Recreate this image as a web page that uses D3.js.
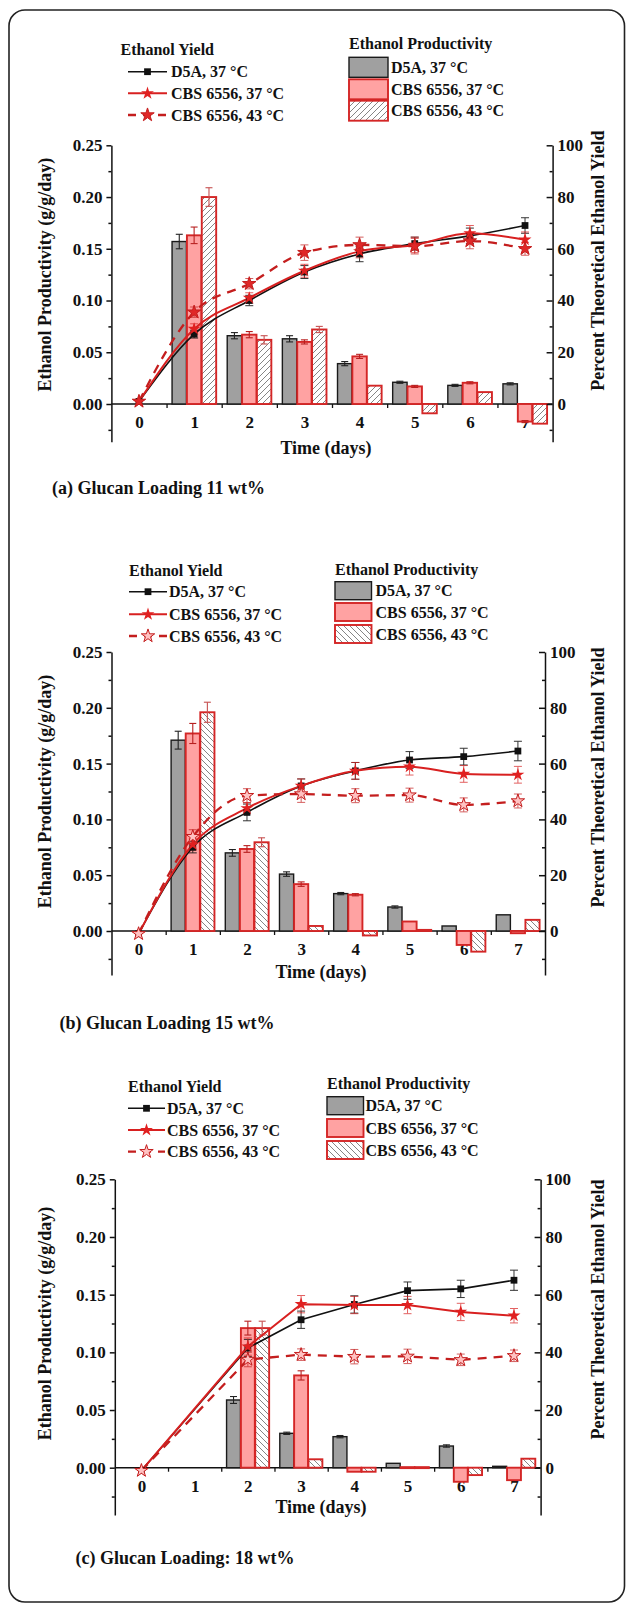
<!DOCTYPE html>
<html>
<head>
<meta charset="utf-8">
<script src="https://cdn.jsdelivr.net/npm/d3@7"></script>
<style>
body { margin: 0; background: #fff; }
text { font-family: "Liberation Serif", "Times New Roman", serif; font-weight: bold; fill: #111; }
</style>
</head>
<body>
<svg id="chart" width="630" height="1604"></svg>
<script>
// ---- data ----
const days = [0, 1, 2, 3, 4, 5, 6, 7];
const seriesKeys = ["d5a", "cbs37", "cbs43"];
const seriesLabels = ["D5A, 37 \u00B0C", "CBS 6556, 37 \u00B0C", "CBS 6556, 43 \u00B0C"];
const leftTicks = [0, 0.05, 0.10, 0.15, 0.20, 0.25];
const rightTicks = [0, 20, 40, 60, 80, 100];

// (a) glucan loading 11 wt%  -- productivity g/g/day
const prodA_d5a = [null, 0.157, 0.066, 0.063, 0.039, 0.021, 0.018, 0.0195];
const prodA_d5aErr = [0, 0.007, 0.003, 0.003, 0.002, 0.001, 0.001, 0.001];
const prodA_c37 = [null, 0.163, 0.067, 0.060, 0.046, 0.017, 0.0205, -0.017];
const prodA_c37Err = [0, 0.008, 0.003, 0.002, 0.002, 0.001, 0.001, 0.001];
const prodA_c43 = [null, 0.200, 0.062, 0.072, 0.0177, -0.009, 0.0115, -0.019];
const prodA_c43Err = [0, 0.009, 0.004, 0.003, 0, 0, 0, 0];
// (a) percent theoretical yield
const yieldA_d5a = [1, 27, 40, 51, 58, 62, 65, 69];
const yieldA_d5aErr = [0, 1.5, 2, 2.5, 3, 2.5, 3, 3];
const yieldA_c37 = [1, 29, 41, 51.5, 59, 61.5, 66, 63.5];
const yieldA_c37Err = [0, 2, 2, 2.5, 2.5, 3, 3, 3];
const yieldA_c43 = [1, 35.5, 46.5, 58.5, 61.5, 61, 63, 60];
const yieldA_c43Err = [0, 2, 2, 3, 3, 3, 3, 2.5];

// (b) glucan loading 15 wt%
const prodB_d5a = [null, 0.171, 0.070, 0.051, 0.0335, 0.0215, 0.0045, 0.0145];
const prodB_d5aErr = [0, 0.008, 0.003, 0.002, 0.001, 0.001, 0, 0];
const prodB_c37 = [null, 0.177, 0.0735, 0.042, 0.0325, 0.0085, -0.0125, -0.002];
const prodB_c37Err = [0, 0.009, 0.003, 0.002, 0.001, 0, 0, 0];
const prodB_c43 = [null, 0.196, 0.0795, 0.0045, -0.004, 0.001, -0.0185, 0.010];
const prodB_c43Err = [0, 0.009, 0.004, 0, 0, 0, 0, 0];
const yieldB_d5a = [-1, 30, 42.5, 52, 57.4, 61.3, 62.5, 64.5];
const yieldB_d5aErr = [0, 2, 3, 2.5, 3, 3, 3, 3.5];
const yieldB_c37 = [-1, 31, 44, 52, 57.4, 58.9, 56.3, 56];
const yieldB_c37Err = [0, 2, 2, 2.5, 3, 3, 3, 3];
const yieldB_c43 = [-1, 33.8, 48.5, 49.1, 48.5, 48.7, 45.2, 46.6];
const yieldB_c43Err = [0, 2.5, 2.5, 3, 2.5, 2.5, 2.5, 2.5];

// (c) glucan loading 18 wt%
const prodC_d5a = [null, null, 0.0587, 0.0298, 0.0269, 0.0038, 0.0188, 0.0012];
const prodC_d5aErr = [0, 0, 0.003, 0.001, 0.001, 0, 0.001, 0];
const prodC_c37 = [null, null, 0.121, 0.080, -0.0035, 0.0005, -0.0122, -0.0108];
const prodC_c37Err = [0, 0, 0.006, 0.004, 0, 0, 0, 0];
const prodC_c43 = [null, null, 0.121, 0.0073, -0.0035, 0.0005, -0.0064, 0.0078];
const prodC_c43Err = [0, 0, 0.006, 0, 0, 0, 0, 0];
const yieldC_d5a = [-1, null, 41.5, 51.3, 56.6, 61.4, 62, 65];
const yieldC_d5aErr = [0, 0, 3, 3, 3, 3, 3, 3.5];
const yieldC_c37 = [-1, null, 42, 56.7, 56.4, 56.4, 54, 52.7];
const yieldC_c37Err = [0, 0, 3, 3, 3, 3, 3, 2.5];
const yieldC_c43 = [-1, null, 37.5, 39.2, 38.5, 38.6, 37.4, 38.8];
const yieldC_c43Err = [0, 0, 2.5, 2, 2.5, 2.5, 2, 2];

// ---- styles ----
const barFill = { d5a: "#a0a0a0", cbs37: "#ffa2a2" };
const barStroke = { d5a: "#1a1a1a", cbs37: "#d42626", cbs43: "#d42626" };
const barErr = { d5a: "#222", cbs37: "#b82020", cbs43: "#c65050" };
const lineColor = { d5a: "#111", cbs37: "#d82020", cbs43: "#c41e1e" };

const panels = [
  {
    id: "a", caption: "(a) Glucan Loading 11 wt%", hatch: "fwd", curve: d3.curveMonotoneX, star43: "#e02828",
    prod: [prodA_d5a, prodA_c37, prodA_c43], prodErr: [prodA_d5aErr, prodA_c37Err, prodA_c43Err],
    yld: [yieldA_d5a, yieldA_c37, yieldA_c43], yldErr: [yieldA_d5aErr, yieldA_c37Err, yieldA_c43Err],
    left: 111.4, right: 552.6, yTop: 145.3, y0: 404, yBot: 441.7,
    yl: { x: 120.5, ty: 49.3, x1: 128, x2: 167, rows: [71.7, 93.3, 115], tx: 171 },
    pl: { x: 349, ty: 43.3, w: 39, h: 20, rows: [57.3, 79.3, 100.7], tx: 391 },
    cap: { x: 52, y: 488.3 }, time: { x: 326, y: 448.3 }
  },
  {
    id: "b", caption: "(b) Glucan Loading 15 wt%", hatch: "back", curve: d3.curveMonotoneX, star43: "#ffc2c2",
    prod: [prodB_d5a, prodB_c37, prodB_c43], prodErr: [prodB_d5aErr, prodB_c37Err, prodB_c43Err],
    yld: [yieldB_d5a, yieldB_c37, yieldB_c43], yldErr: [yieldB_d5aErr, yieldB_c37Err, yieldB_c43Err],
    left: 111.5, right: 545, yTop: 652, y0: 931, yBot: 975,
    yl: { x: 129, ty: 570, x1: 129, x2: 167, rows: [591.7, 614.3, 636], tx: 169 },
    pl: { x: 335, ty: 569.3, w: 36.5, h: 18, rows: [581.7, 603, 625], tx: 375.5 },
    cap: { x: 59.4, y: 1023.3 }, time: { x: 321, y: 971.7 }
  },
  {
    id: "c", caption: "(c) Glucan Loading: 18 wt%", hatch: "back", curve: d3.curveLinear, star43: "#ffc2c2",
    prod: [prodC_d5a, prodC_c37, prodC_c43], prodErr: [prodC_d5aErr, prodC_c37Err, prodC_c43Err],
    yld: [yieldC_d5a, yieldC_c37, yieldC_c43], yldErr: [yieldC_d5aErr, yieldC_c37Err, yieldC_c43Err],
    left: 114.8, right: 540.6, yTop: 1179.3, y0: 1467.7, yBot: 1515,
    yl: { x: 128, ty: 1086.7, x1: 128, x2: 165, rows: [1108.3, 1130, 1151.7], tx: 167 },
    pl: { x: 327, ty: 1083.3, w: 36.5, h: 18, rows: [1096.7, 1119, 1141], tx: 365.5 },
    cap: { x: 75.5, y: 1557.7 }, time: { x: 321, y: 1506.7 }
  }
];

const svg = d3.select("#chart");
const defs = svg.append("defs");

function addHatch(id, dir) {
  const p = defs.append("pattern").attr("id", id)
    .attr("patternUnits", "userSpaceOnUse").attr("width", 6).attr("height", 6);
  p.append("rect").attr("width", 6).attr("height", 6).attr("fill", "#fff");
  const path = dir === "fwd" ? "M-1,1 L1,-1 M0,6 L6,0 M5,7 L7,5" : "M-1,5 L1,7 M0,0 L6,6 M5,-1 L7,1";
  p.append("path").attr("d", path).attr("stroke", "#777").attr("stroke-width", 0.9);
}
addHatch("hatch-fwd", "fwd");
addHatch("hatch-back", "back");

// outer frame
svg.append("rect")
  .attr("x", 9).attr("y", 10).attr("width", 615.5).attr("height", 1592)
  .attr("rx", 16).attr("ry", 16)
  .attr("fill", "none").attr("stroke", "#222").attr("stroke-width", 1.6);

const symbolFor = { d5a: d3.symbolSquare, cbs37: d3.symbolStar, cbs43: d3.symbolStar };
const symbolSize = { d5a: 46, cbs37: 52, cbs43: 56 };

function drawMarker(g, key, cx, cy, fill43) {
  const m = g.append("path")
    .attr("d", d3.symbol().type(symbolFor[key]).size(symbolSize[key])())
    .attr("transform", `translate(${cx},${cy})`);
  if (key === "d5a") m.attr("fill", "#111");
  else if (key === "cbs37") m.attr("fill", "#e02020");
  else m.attr("fill", fill43).attr("stroke", "#c41e1e").attr("stroke-width", 1);
}

function lineStyle(sel, key) {
  sel.attr("fill", "none").attr("stroke", lineColor[key])
    .attr("stroke-width", key === "d5a" ? 1.6 : key === "cbs37" ? 2 : 2.3);
  if (key === "cbs43") sel.attr("stroke-dasharray", "9,7");
  return sel;
}

function drawPanel(p) {
  const g = svg.append("g").attr("class", "panel-" + p.id);
  const hatchUrl = `url(#hatch-${p.hatch})`;

  const x = d3.scaleLinear().domain([-0.5, 7.5]).range([p.left, p.right]);
  const yBase = d3.scaleLinear().domain([0, 0.25]).range([p.y0, p.yTop]);
  const yMin = yBase.invert(p.yBot);
  const y = d3.scaleLinear().domain([yMin, 0.25]).range([p.yBot, p.yTop]);
  const y2 = d3.scaleLinear().domain([yMin * 400, 100]).range([p.yBot, p.yTop]);
  const sub = d3.scaleBand().domain(seriesKeys).range([-0.4, 0.4]).paddingInner(0.03);

  // x tick labels first (bars cover some of them, as in the original)
  const xAxis = g.append("g").attr("transform", `translate(0,${p.y0})`)
    .call(d3.axisBottom(x).tickValues(days).tickSize(0).tickPadding(12).tickFormat(d3.format("d")));
  xAxis.select(".domain").remove();
  xAxis.selectAll("text").style("font-size", "17px").style("font-family", "Liberation Serif").attr("fill", "#111");

  const xMinor = g.append("g").attr("transform", `translate(0,${p.y0})`)
    .call(d3.axisBottom(x).tickValues(days.slice(0, 7).map(d => d + 0.5)).tickSize(4).tickFormat(""));
  xMinor.select(".domain").remove();
  xMinor.selectAll("line").attr("stroke", "#111").attr("stroke-width", 1.3);

  g.append("line").attr("x1", p.left).attr("x2", p.right)
    .attr("y1", p.y0).attr("y2", p.y0).attr("stroke", "#111").attr("stroke-width", 1.5);

  // bars
  seriesKeys.forEach((key, si) => {
    const vals = p.prod[si], errs = p.prodErr[si];
    const pts = days.map((d, i) => ({ d, v: vals[i], e: errs[i] })).filter(o => o.v !== null);
    const bw = x(sub.bandwidth()) - x(0);
    g.append("g").selectAll("rect").data(pts).enter().append("rect")
      .attr("x", o => x(o.d + sub(key)))
      .attr("y", o => y(Math.max(o.v, 0)))
      .attr("width", bw)
      .attr("height", o => Math.max(Math.abs(y(o.v) - y(0)), 1))
      .attr("fill", key === "cbs43" ? hatchUrl : barFill[key])
      .attr("stroke", barStroke[key])
      .attr("stroke-width", key === "d5a" ? 1.4 : 1.9);
    const eg = g.append("g").attr("stroke", barErr[key]).attr("stroke-width", 1.1);
    pts.filter(o => o.e > 0).forEach(o => {
      const cx = x(o.d + sub(key) + sub.bandwidth() / 2);
      eg.append("line").attr("x1", cx).attr("x2", cx).attr("y1", y(o.v - o.e)).attr("y2", y(o.v + o.e));
      [o.v - o.e, o.v + o.e].forEach(v => eg.append("line")
        .attr("x1", cx - 3.5).attr("x2", cx + 3.5).attr("y1", y(v)).attr("y2", y(v)));
    });
  });

  // yield lines
  seriesKeys.forEach((key, si) => {
    const vals = p.yld[si], errs = p.yldErr[si];
    const pts = days.map((d, i) => ({ d, v: vals[i], e: errs[i] })).filter(o => o.v !== null);
    const line = d3.line().x(o => x(o.d)).y(o => y2(o.v)).curve(p.curve);
    lineStyle(g.append("path").datum(pts).attr("d", line), key);
    const eg = g.append("g").attr("stroke", lineColor[key]).attr("stroke-width", 1)
      .attr("opacity", key === "d5a" ? 0.85 : 0.7);
    pts.filter(o => o.e > 0).forEach(o => {
      const cx = x(o.d);
      eg.append("line").attr("x1", cx).attr("x2", cx).attr("y1", y2(o.v - o.e)).attr("y2", y2(o.v + o.e));
      [o.v - o.e, o.v + o.e].forEach(v => eg.append("line")
        .attr("x1", cx - 4).attr("x2", cx + 4).attr("y1", y2(v)).attr("y2", y2(v)));
    });
  });
  seriesKeys.forEach((key, si) => {
    days.forEach((d, i) => {
      const v = p.yld[si][i];
      if (v !== null) drawMarker(g, key, x(d), y2(v), p.star43);
    });
  });

  // left axis
  const la = g.append("g").attr("transform", `translate(${p.left},0)`)
    .call(d3.axisLeft(y).tickValues(leftTicks).tickFormat(d3.format(".2f")).tickSizeInner(5).tickSizeOuter(0).tickPadding(4));
  const laMinor = g.append("g").attr("transform", `translate(${p.left},0)`)
    .call(d3.axisLeft(y).tickValues([-0.025, 0.025, 0.075, 0.125, 0.175, 0.225]).tickSize(3).tickFormat(""));
  laMinor.select(".domain").remove();

  // right axis (ticks point inward)
  const ra = g.append("g").attr("transform", `translate(${p.right},0)`)
    .call(d3.axisRight(y2).tickValues(rightTicks).tickSizeInner(-6).tickSizeOuter(0).tickPadding(5));
  const raMinor = g.append("g").attr("transform", `translate(${p.right},0)`)
    .call(d3.axisRight(y2).tickValues([-10, 10, 30, 50, 70, 90]).tickSize(-3).tickFormat(""));
  raMinor.select(".domain").remove();

  [la, ra, laMinor, raMinor].forEach(a => {
    a.selectAll(".domain, line").attr("stroke", "#111").attr("stroke-width", 1.5);
    a.selectAll("text").style("font-size", "17px").style("font-family", "Liberation Serif").attr("fill", "#111");
  });

  // axis titles
  const mid = (p.y0 + p.yTop) / 2;
  g.append("text").attr("transform", `translate(45,${mid}) rotate(-90)`)
    .attr("text-anchor", "middle").attr("dominant-baseline", "central")
    .style("font-size", "18px").text("Ethanol Productivity (g/g/day)");
  g.append("text").attr("transform", `translate(598,${mid - 14}) rotate(-90)`)
    .attr("text-anchor", "middle").attr("dominant-baseline", "central")
    .style("font-size", "18px").text("Percent Theoretical Ethanol Yield");
  g.append("text").attr("x", p.time.x).attr("y", p.time.y)
    .attr("text-anchor", "middle").attr("dominant-baseline", "central")
    .style("font-size", "18px").text("Time (days)");
  g.append("text").attr("x", p.cap.x).attr("y", p.cap.y)
    .attr("dominant-baseline", "central")
    .style("font-size", "18px").text(p.caption);

  // yield legend
  const yl = p.yl;
  g.append("text").attr("x", yl.x).attr("y", yl.ty).attr("dominant-baseline", "central")
    .style("font-size", "16px").text("Ethanol Yield");
  seriesKeys.forEach((key, si) => {
    const ry = yl.rows[si];
    lineStyle(g.append("line").attr("x1", yl.x1).attr("x2", yl.x2).attr("y1", ry).attr("y2", ry), key)
      .attr("stroke-dasharray", key === "cbs43" ? "8,7" : null);
    drawMarker(g, key, (yl.x1 + yl.x2) / 2, ry, p.star43);
    g.append("text").attr("x", yl.tx).attr("y", ry).attr("dominant-baseline", "central")
      .style("font-size", "16px").text(seriesLabels[si]);
  });

  // productivity legend
  const pl = p.pl;
  g.append("text").attr("x", pl.x).attr("y", pl.ty).attr("dominant-baseline", "central")
    .style("font-size", "16px").text("Ethanol Productivity");
  seriesKeys.forEach((key, si) => {
    const ry = pl.rows[si];
    g.append("rect").attr("x", pl.x).attr("y", ry).attr("width", pl.w).attr("height", pl.h)
      .attr("fill", key === "cbs43" ? hatchUrl : barFill[key])
      .attr("stroke", barStroke[key]).attr("stroke-width", key === "d5a" ? 1.4 : 1.9);
    g.append("text").attr("x", pl.tx).attr("y", ry + pl.h / 2).attr("dominant-baseline", "central")
      .style("font-size", "16px").text(seriesLabels[si]);
  });
}

panels.forEach(drawPanel);
</script>
</body>
</html>
